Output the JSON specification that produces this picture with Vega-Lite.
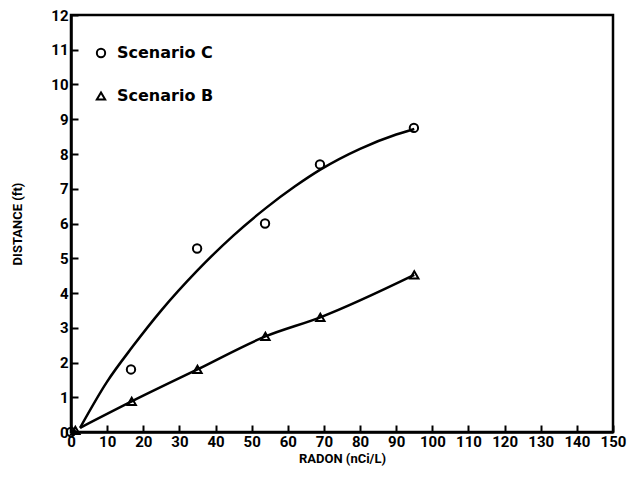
{
  "$schema": "https://vega.github.io/schema/vega-lite/v6.json",
  "autosize": "none",
  "width": 542,
  "height": 417,
  "padding": {"left": 71, "top": 15, "right": 15, "bottom": 50},
  "background": "white",
  "config": {
    "view": {"stroke": "black", "strokeWidth": 2.5},
    "font": "Roboto",
    "axis": {
      "labelFont": "Roboto", "labelFontWeight": "bold", "labelFontSize": 15, "labelColor": "black",
      "titleFont": "Roboto", "titleFontWeight": "bold", "titleFontSize": 13, "titleColor": "black",
      "domainColor": "black", "domainWidth": 2.5, "tickColor": "black", "tickWidth": 2,
      "labelOverlap": false, "labelFlush": false, "grid": false
    }
  },
  "datasets": {
    "pts": [
      {"radon": 0, "dist": 0, "scenario": "Scenario C"},
      {"radon": 16.6, "dist": 1.8, "scenario": "Scenario C"},
      {"radon": 34.9, "dist": 5.28, "scenario": "Scenario C"},
      {"radon": 53.7, "dist": 6.0, "scenario": "Scenario C"},
      {"radon": 68.9, "dist": 7.7, "scenario": "Scenario C"},
      {"radon": 94.9, "dist": 8.75, "scenario": "Scenario C"},
      {"radon": 1.2, "dist": 0.05, "scenario": "Scenario B"},
      {"radon": 16.8, "dist": 0.88, "scenario": "Scenario B"},
      {"radon": 35.0, "dist": 1.8, "scenario": "Scenario B"},
      {"radon": 53.8, "dist": 2.75, "scenario": "Scenario B"},
      {"radon": 69.0, "dist": 3.3, "scenario": "Scenario B"},
      {"radon": 95.0, "dist": 4.52, "scenario": "Scenario B"}
    ],
    "fit": [
      {"radon": 2.5, "dist": 0.12, "curve": "C"},
      {"radon": 10, "dist": 1.45, "curve": "C"},
      {"radon": 17, "dist": 2.45, "curve": "C"},
      {"radon": 25, "dist": 3.5, "curve": "C"},
      {"radon": 35, "dist": 4.65, "curve": "C"},
      {"radon": 45, "dist": 5.66, "curve": "C"},
      {"radon": 54, "dist": 6.45, "curve": "C"},
      {"radon": 62, "dist": 7.07, "curve": "C"},
      {"radon": 69, "dist": 7.55, "curve": "C"},
      {"radon": 80, "dist": 8.15, "curve": "C"},
      {"radon": 90, "dist": 8.56, "curve": "C"},
      {"radon": 95, "dist": 8.72, "curve": "C"},
      {"radon": 2.5, "dist": 0.12, "curve": "B"},
      {"radon": 16.8, "dist": 0.88, "curve": "B"},
      {"radon": 35.0, "dist": 1.8, "curve": "B"},
      {"radon": 53.8, "dist": 2.75, "curve": "B"},
      {"radon": 69.0, "dist": 3.3, "curve": "B"},
      {"radon": 95.0, "dist": 4.52, "curve": "B"}
    ]
  },
  "encoding": {
    "x": {"field": "radon", "type": "quantitative",
          "scale": {"domain": [0, 150], "nice": false},
          "axis": {"values": [0,10,20,30,40,50,60,70,80,90,100,110,120,130,140,150], "ticks": true, "tickSize": -7, "labelPadding": 9, "title": "RADON (nCi/L)", "titlePadding": 3}},
    "y": {"field": "dist", "type": "quantitative",
          "scale": {"domain": [0, 12], "nice": false},
          "axis": {"values": [0,1,2,3,4,5,6,7,8,9,10,11,12], "ticks": true, "tickSize": -7, "labelPadding": 10, "title": "DISTANCE (ft)", "titlePadding": 26}}
  },
  "layer": [
    {
      "data": {"name": "fit"},
      "mark": {"type": "line", "color": "black", "strokeWidth": 2.5, "interpolate": "monotone"},
      "encoding": {"detail": {"field": "curve"}}
    },
    {
      "data": {"name": "pts"},
      "mark": {"type": "point", "filled": false, "color": "black", "strokeWidth": 2, "size": 70, "opacity": 1},
      "encoding": {
        "shape": {"field": "scenario", "type": "nominal",
                  "scale": {"domain": ["Scenario C", "Scenario B"], "range": ["circle", "triangle-up"]},
                  "legend": {"title": null, "orient": "none", "legendX": 22, "legendY": 30,
                             "labelFont": "DejaVu Sans", "labelFontWeight": "bold", "labelFontSize": 16, "labelColor": "black",
                             "symbolStrokeWidth": 2, "symbolSize": 70, "symbolStrokeColor": "black",
                             "rowPadding": 26, "labelOffset": 8}}
      }
    }
  ]
}
